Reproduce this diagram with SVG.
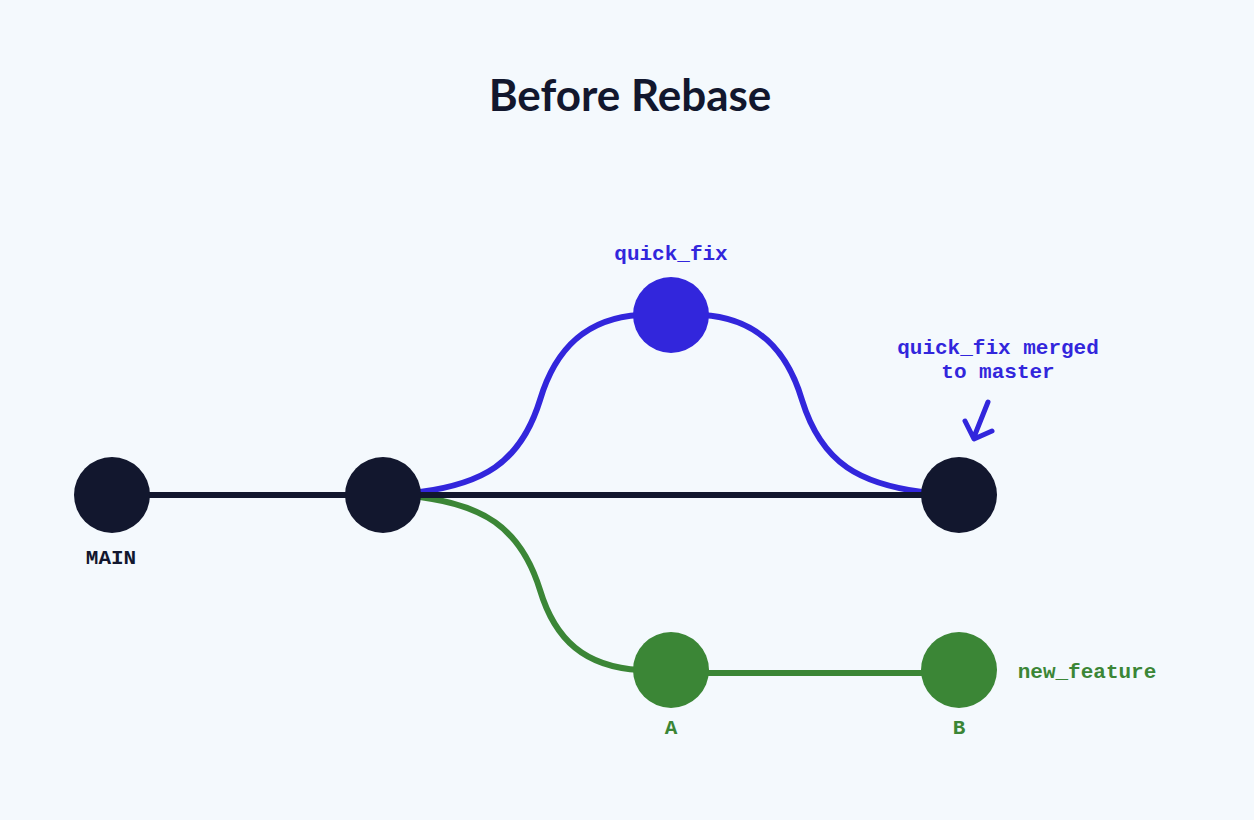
<svg xmlns="http://www.w3.org/2000/svg" width="1254" height="820" viewBox="0 0 1254 820">
<style>
.mono{font-family:"Liberation Mono","DejaVu Sans Mono",monospace;font-weight:700;font-size:21px;text-anchor:middle}
.blue{fill:#3226dc}
.green{fill:#3b8636}
.dark{fill:#12172e}
.edge{fill:none;stroke-width:6}
</style>
<rect width="1254" height="820" fill="#f4f9fd"/>
<text x="630" y="111" font-family="Lato,'Open Sans',sans-serif" font-weight="700" font-size="44" text-anchor="middle" class="dark">Before Rebase</text>
<g id="connectors">
<path class="edge" stroke="#3226dc" d="M420,492 C480,484 520,465 540,400 C555,350 585,318 640,315"/>
<path class="edge" stroke="#3226dc" d="M702,315 C757,318 787,350 802,400 C822,465 862,484 922,492"/>
<path class="edge" stroke="#3b8636" d="M420,497 C480,505 520,525 540,590 C555,640 585,667 640,670"/>
<line class="edge" stroke="#12172e" x1="112" y1="495" x2="959" y2="495"/>
<line class="edge" stroke="#3b8636" x1="671" y1="673" x2="959" y2="673"/>
</g>
<g id="node-main"><circle cx="112" cy="495" r="38" class="dark"/><text x="111" y="564" class="mono dark">MAIN</text></g>
<g id="node-c2"><circle cx="383" cy="495" r="38" class="dark"/></g>
<g id="node-merge"><circle cx="959" cy="495" r="38" class="dark"/></g>
<g id="node-quickfix"><circle cx="671" cy="315" r="38" class="blue"/><text x="671" y="260" class="mono blue">quick_fix</text></g>
<g id="node-a"><circle cx="671" cy="670" r="38" class="green"/><text x="671" y="734" class="mono green">A</text></g>
<g id="node-b"><circle cx="959" cy="670" r="38" class="green"/><text x="959" y="734" class="mono green">B</text></g>
<text x="1087" y="678" class="mono green">new_feature</text>
<g id="annotation">
<text x="998" y="354" class="mono blue">quick_fix merged</text>
<text x="998" y="378" class="mono blue">to master</text>
<path d="M988,402 L974,437 M965,421 L974,439 L992,431" fill="none" stroke="#3226dc" stroke-width="5" stroke-linecap="round" stroke-linejoin="round"/>
</g>
</svg>
